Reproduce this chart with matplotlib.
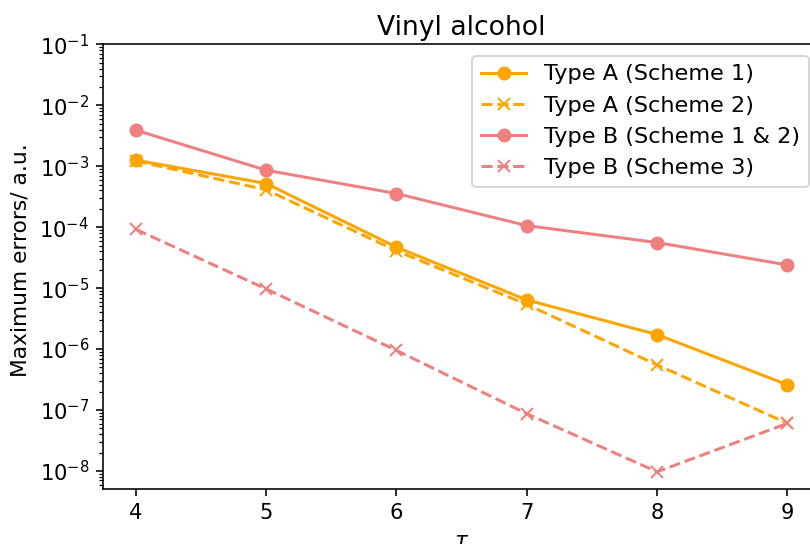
import numpy as np
import matplotlib
matplotlib.use("Agg")
import matplotlib.pyplot as plt

# Number of time-step refinements (tau) and maximum errors for each scheme
tau = [4, 5, 6, 7, 8, 9]
type_a_scheme1 = [1.26e-3, 5.2e-4, 4.7e-5, 6.4e-6, 1.73e-6, 2.6e-7]
type_a_scheme2 = [1.22e-3, 4.1e-4, 4.1e-5, 5.4e-6, 5.5e-7, 6.05e-8]
type_b_scheme12 = [3.9e-3, 8.6e-4, 3.56e-4, 1.06e-4, 5.6e-5, 2.4e-5]
type_b_scheme3 = [9.2e-5, 9.7e-6, 9.5e-7, 8.7e-8, 9.7e-9, 6.05e-8]

orange = "orange"
coral = "lightcoral"

fig = plt.figure(figsize=(810 / 144, 544 / 144), dpi=144)
ax = fig.add_axes([103.3 / 810, 54.7 / 544, 716.7 / 810, 445.0 / 544])

ax.plot(tau, type_a_scheme1, "-o", color=orange, label="Type A (Scheme 1)")
ax.plot(tau, type_a_scheme2, "--x", color=orange, label="Type A (Scheme 2)")
ax.plot(tau, type_b_scheme12, "-o", color=coral, label="Type B (Scheme 1 & 2)")
ax.plot(tau, type_b_scheme3, "--x", color=coral, label="Type B (Scheme 3)")

ax.set_yscale("log")
ax.set_ylim(10 ** -8.3, 1e-1)
ax.set_xticks(tau)
ax.tick_params(labelsize=10.5)

ax.set_title("Vinyl alcohol", fontsize=13.3, pad=4.5)
ax.set_ylabel("Maximum errors/ a.u.", fontsize=10.9)
ax.yaxis.set_label_coords(-0.101, 0.515)
ax.set_xlabel(r"$\tau$", fontsize=10.9)
ax.legend(loc="upper right", fontsize=11.2)

fig.savefig("out.png", dpi=144)
